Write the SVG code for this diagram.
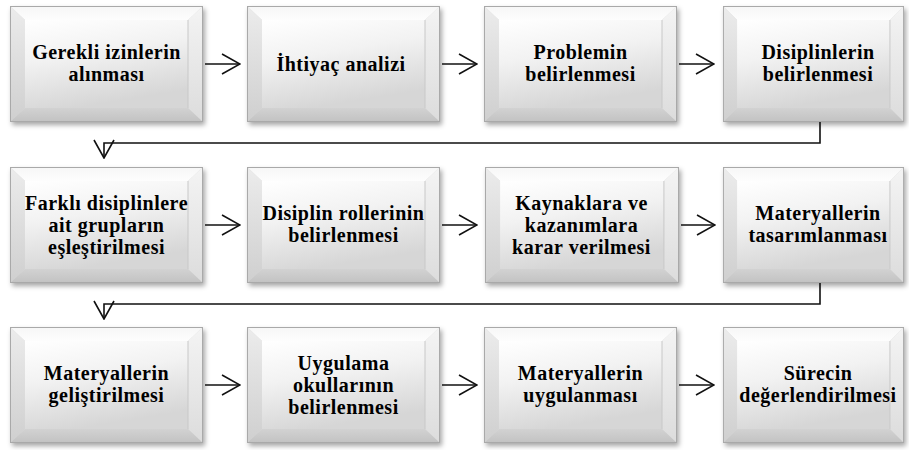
<svg xmlns="http://www.w3.org/2000/svg" xmlns:xlink="http://www.w3.org/1999/xlink" width="909" height="450" viewBox="0 0 909 450">
<style>
.t{font-family:'Liberation Serif','Times New Roman',serif;font-weight:700;font-size:20px;letter-spacing:0.5px;text-anchor:middle;fill:#000}
.c{fill:none;stroke:#111;stroke-width:1.6}
</style>
<defs>
<linearGradient id="gTop" x1="0" y1="0" x2="0" y2="1"><stop offset="0" stop-color="#f6f6f6"/><stop offset="1" stop-color="#fdfdfd"/></linearGradient>
<linearGradient id="gLeft" x1="0" y1="0" x2="0" y2="1"><stop offset="0" stop-color="#ececec"/><stop offset="1" stop-color="#cfcfcf"/></linearGradient>
<linearGradient id="gRight" x1="0" y1="0" x2="0" y2="1"><stop offset="0" stop-color="#f4f4f4"/><stop offset="1" stop-color="#dcdcdc"/></linearGradient>
<linearGradient id="gBot" x1="0" y1="0" x2="0" y2="1"><stop offset="0" stop-color="#d2d2d2"/><stop offset="1" stop-color="#c2c2c2"/></linearGradient>
<linearGradient id="gFace" x1="0" y1="0" x2="0.3" y2="1"><stop offset="0" stop-color="#ffffff"/><stop offset="0.45" stop-color="#f2f2f2"/><stop offset="1" stop-color="#d6d6d6"/></linearGradient>
<filter id="sh" x="-10%" y="-10%" width="125%" height="130%">
<feDropShadow dx="2" dy="3" stdDeviation="2.5" flood-color="#000" flood-opacity="0.35"/>
</filter>
<symbol id="box" viewBox="0 0 193 116" preserveAspectRatio="none">
<rect x="0" y="0" width="193" height="116" fill="#d9d9d9"/>
<polygon points="0,0 193,0 178,14 15,14" fill="url(#gTop)"/>
<polygon points="0,0 15,14 15,102 0,116" fill="url(#gLeft)"/>
<polygon points="193,0 193,116 178,102 178,14" fill="url(#gRight)"/>
<polygon points="0,116 15,102 178,102 193,116" fill="url(#gBot)"/>
<rect x="15" y="14" width="163" height="88" fill="url(#gFace)"/>
<line x1="178" y1="14" x2="178" y2="102" stroke="#c8c8c8" stroke-width="1"/>
<rect x="0.5" y="0.5" width="192" height="115" fill="none" stroke="#a9a9a9" stroke-width="1"/>
</symbol>
<marker id="ah" viewBox="0 0 20 22" refX="19" refY="11" markerWidth="20" markerHeight="22" markerUnits="userSpaceOnUse" orient="auto">
<path d="M1,1 L19,11 L1,21" fill="none" stroke="#111" stroke-width="1.6"/>
</marker>
</defs>
<rect width="909" height="450" fill="#fff"/>

<g id="n1"><use xlink:href="#box" x="10" y="6" width="193" height="116" filter="url(#sh)"/>
<text class="t" x="106.5" y="59">Gerekli izinlerin</text><text class="t" x="106.5" y="81">alınması</text></g>
<g id="n2"><use xlink:href="#box" x="247" y="6" width="193" height="116" filter="url(#sh)"/>
<text class="t" x="341" y="71">İhtiyaç analizi</text></g>
<g id="n3"><use xlink:href="#box" x="484" y="6" width="193" height="116" filter="url(#sh)"/>
<text class="t" x="580.5" y="59">Problemin</text><text class="t" x="580.5" y="81">belirlenmesi</text></g>
<g id="n4"><use xlink:href="#box" x="723" y="6" width="181" height="116" filter="url(#sh)"/>
<text class="t" x="818" y="59">Disiplinlerin</text><text class="t" x="818" y="81">belirlenmesi</text></g>

<g id="n5"><use xlink:href="#box" x="10" y="167" width="193" height="116" filter="url(#sh)"/>
<text class="t" x="106.5" y="210">Farklı disiplinlere</text><text class="t" x="106.5" y="232">ait grupların</text><text class="t" x="106.5" y="254">eşleştirilmesi</text></g>
<g id="n6"><use xlink:href="#box" x="247" y="167" width="193" height="116" filter="url(#sh)"/>
<text class="t" x="343.5" y="220">Disiplin rollerinin</text><text class="t" x="343.5" y="242">belirlenmesi</text></g>
<g id="n7"><use xlink:href="#box" x="485" y="167" width="194" height="116" filter="url(#sh)"/>
<text class="t" x="581.5" y="210">Kaynaklara ve</text><text class="t" x="581.5" y="232">kazanımlara</text><text class="t" x="581.5" y="254">karar verilmesi</text></g>
<g id="n8"><use xlink:href="#box" x="723" y="167" width="181" height="116" filter="url(#sh)"/>
<text class="t" x="818" y="220">Materyallerin</text><text class="t" x="818" y="242">tasarımlanması</text></g>

<g id="n9"><use xlink:href="#box" x="10" y="327" width="193" height="116" filter="url(#sh)"/>
<text class="t" x="106.5" y="380">Materyallerin</text><text class="t" x="106.5" y="402">geliştirilmesi</text></g>
<g id="n10"><use xlink:href="#box" x="247" y="327" width="193" height="116" filter="url(#sh)"/>
<text class="t" x="343.5" y="370">Uygulama</text><text class="t" x="343.5" y="392">okullarının</text><text class="t" x="343.5" y="414">belirlenmesi</text></g>
<g id="n11"><use xlink:href="#box" x="484" y="327" width="193" height="116" filter="url(#sh)"/>
<text class="t" x="580.5" y="380">Materyallerin</text><text class="t" x="580.5" y="402">uygulanması</text></g>
<g id="n12"><use xlink:href="#box" x="723" y="327" width="181" height="116" filter="url(#sh)"/>
<text class="t" x="818" y="380">Sürecin</text><text class="t" x="818" y="402">değerlendirilmesi</text></g>

<g id="connectors">
<line class="c" x1="205" y1="64" x2="240" y2="64" marker-end="url(#ah)"/>
<line class="c" x1="442" y1="64" x2="477" y2="64" marker-end="url(#ah)"/>
<line class="c" x1="679" y1="64" x2="714" y2="64" marker-end="url(#ah)"/>
<polyline class="c" points="820,122 820,143 104,143 104,158" marker-end="url(#ah)"/>
<line class="c" x1="205" y1="225" x2="240" y2="225" marker-end="url(#ah)"/>
<line class="c" x1="442" y1="225" x2="477" y2="225" marker-end="url(#ah)"/>
<line class="c" x1="681" y1="225" x2="715" y2="225" marker-end="url(#ah)"/>
<polyline class="c" points="820,283 820,304 104,304 104,319" marker-end="url(#ah)"/>
<line class="c" x1="205" y1="385" x2="240" y2="385" marker-end="url(#ah)"/>
<line class="c" x1="442" y1="385" x2="477" y2="385" marker-end="url(#ah)"/>
<line class="c" x1="679" y1="385" x2="714" y2="385" marker-end="url(#ah)"/>
</g>
</svg>
